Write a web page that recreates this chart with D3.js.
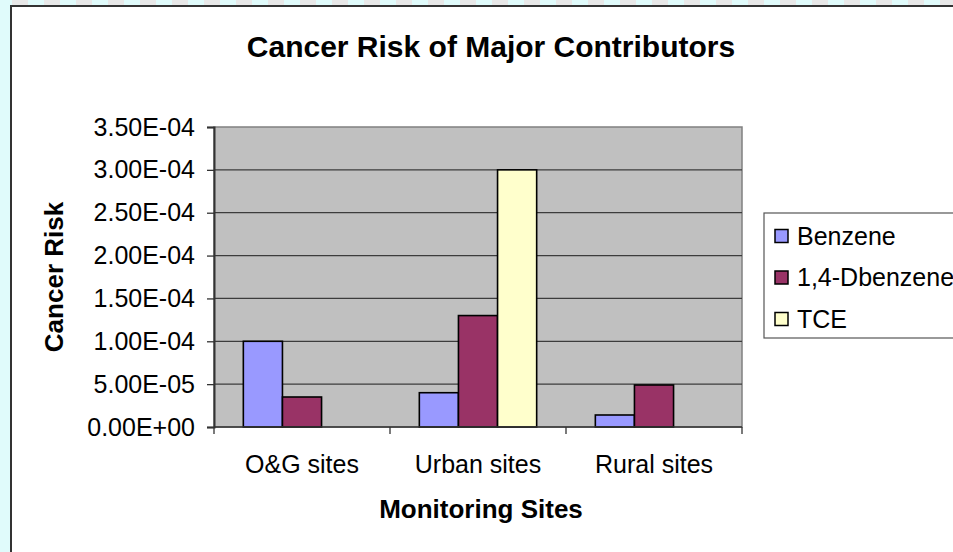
<!DOCTYPE html>
<html>
<head>
<meta charset="utf-8">
<script src="https://cdn.jsdelivr.net/npm/d3@7"></script>
<style>
  body { margin: 0; padding: 0; background: #e0fbfb; }
  svg { display: block; }
  text { font-family: "Liberation Sans", Arial, sans-serif; fill: #000; }
</style>
</head>
<body>
<svg id="chart" width="953" height="552"></svg>
<script>
// chart data
var categories = ["O&G sites", "Urban sites", "Rural sites"];
var seriesNames = ["Benzene", "1,4-Dbenzene", "TCE"];
var benzene = [1.0e-4, 4.0e-5, 1.4e-5];
var dbenzene = [3.5e-5, 1.3e-4, 4.9e-5];
var tce = [null, 3.0e-4, null];
var yTicks = [0, 5e-5, 1e-4, 1.5e-4, 2e-4, 2.5e-4, 3e-4, 3.5e-4];

var seriesColors = ["#9999ff", "#993366", "#ffffcc"];
var allSeries = [benzene, dbenzene, tce];

var svg = d3.select('#chart');
var W = +svg.attr('width');
var H = +svg.attr('height');

// page background: cyan with a checkered strip on top
svg.append('rect').attr('width', W).attr('height', H).attr('fill', '#e0fbfb');
for (var bx = 12; bx < W; bx += 32) {
    svg.append('rect').attr('x', bx).attr('y', 0).attr('width', 16).attr('height', 6).attr('fill', '#e8e8e8');
}

// chart area (runs off the right and bottom)
svg.append('rect')
    .attr('x', 11).attr('y', 6)
    .attr('width', W + 20).attr('height', H + 20)
    .attr('fill', '#fff')
    .attr('stroke', '#333')
    .attr('stroke-width', 2);

var plot = {l: 214, r: 742, t: 127, b: 427};

var x = d3.scaleBand()
    .domain(categories)
    .range([plot.l, plot.r])
    .padding(0);

var xInner = d3.scaleBand()
    .domain(seriesNames)
    .range([0, x.bandwidth()])
    .paddingInner(0)
    .paddingOuter(0.75);

var y = d3.scaleLinear()
    .domain([0, 3.5e-4])
    .range([plot.b, plot.t]);

function fmtE(v) {
    if (v === 0) return "0.00E+00";
    var parts = v.toExponential(2).split("e");
    var sign = parts[1][0];
    var digits = parts[1].slice(1);
    if (digits.length < 2) digits = "0" + digits;
    return parts[0] + "E" + sign + digits;
}

// plot background
svg.append('rect')
    .attr('x', plot.l).attr('y', plot.t)
    .attr('width', plot.r - plot.l).attr('height', plot.b - plot.t)
    .attr('fill', '#c0c0c0')
    .attr('stroke', '#808080')
    .attr('stroke-width', 1.5);

// gridlines
svg.append('g')
    .selectAll('line')
    .data(yTicks.filter(function(d) { return d > 0 && d < 3.5e-4; }))
    .enter().append('line')
    .attr('x1', plot.l).attr('x2', plot.r)
    .attr('y1', function(d) { return y(d); })
    .attr('y2', function(d) { return y(d); })
    .attr('stroke', '#3c3c3c')
    .attr('stroke-width', 1.3);

// bars
var groups = svg.append('g')
    .selectAll('g')
    .data(seriesNames)
    .enter().append('g')
    .attr('fill', function(d, i) { return seriesColors[i]; });

groups.each(function(name, si) {
    var rows = categories.map(function(c, ci) { return {cat: c, v: allSeries[si][ci]}; })
        .filter(function(d) { return d.v != null; });
    d3.select(this).selectAll('rect')
        .data(rows)
        .enter().append('rect')
        .attr('x', function(d) { return x(d.cat) + xInner(name); })
        .attr('y', function(d) { return y(d.v); })
        .attr('width', xInner.bandwidth())
        .attr('height', function(d) { return y(0) - y(d.v); })
        .attr('stroke', '#000')
        .attr('stroke-width', 1.6);
});

// y axis
var yAxis = d3.axisLeft(y)
    .tickValues(yTicks)
    .tickSize(7)
    .tickPadding(12)
    .tickFormat(fmtE);
var yg = svg.append('g')
    .attr('transform', 'translate(' + plot.l + ',0)')
    .call(yAxis);
yg.select('.domain').attr('stroke', '#333').attr('stroke-width', 2);
yg.selectAll('.tick line').attr('stroke', '#333').attr('stroke-width', 1.3);
yg.selectAll('.tick text')
    .style('font-family', '"Liberation Sans", Arial, sans-serif')
    .style('font-size', '25px')
    .attr('fill', '#000');

// x axis line and boundary ticks
svg.append('line')
    .attr('x1', plot.l).attr('x2', plot.r)
    .attr('y1', plot.b).attr('y2', plot.b)
    .attr('stroke', '#333').attr('stroke-width', 1.5);
var bounds = categories.map(function(c) { return x(c); }).concat([plot.r]);
svg.append('g')
    .selectAll('line')
    .data(bounds)
    .enter().append('line')
    .attr('x1', function(d) { return d; }).attr('x2', function(d) { return d; })
    .attr('y1', plot.b).attr('y2', plot.b + 7)
    .attr('stroke', '#333').attr('stroke-width', 1.3);

svg.append('g')
    .selectAll('text')
    .data(categories)
    .enter().append('text')
    .attr('x', function(d) { return x(d) + x.bandwidth() / 2; })
    .attr('y', 473)
    .attr('text-anchor', 'middle')
    .style('font-size', '25px')
    .text(function(d) { return d; });

// titles
svg.append('text')
    .attr('x', 491).attr('y', 57)
    .attr('text-anchor', 'middle')
    .style('font-size', '30px')
    .style('font-weight', 'bold')
    .text('Cancer Risk of Major Contributors');

svg.append('text')
    .attr('x', 481).attr('y', 518)
    .attr('text-anchor', 'middle')
    .style('font-size', '26px')
    .style('font-weight', 'bold')
    .text('Monitoring Sites');

svg.append('text')
    .attr('transform', 'translate(63,' + ((plot.t + plot.b) / 2) + ') rotate(-90)')
    .attr('text-anchor', 'middle')
    .style('font-size', '26px')
    .style('font-weight', 'bold')
    .text('Cancer Risk');

// legend
var legend = svg.append('g').attr('transform', 'translate(764,213)');
legend.append('rect')
    .attr('width', 260).attr('height', 125)
    .attr('fill', '#fff')
    .attr('stroke', '#555')
    .attr('stroke-width', 1.2);

var items = legend.selectAll('.item')
    .data(seriesNames)
    .enter().append('g')
    .attr('class', 'item')
    .attr('transform', function(d, i) { return 'translate(0,' + (23 + i * 41.5) + ')'; });

items.append('rect')
    .attr('x', 11).attr('y', -6.5)
    .attr('width', 13).attr('height', 13)
    .attr('fill', function(d, i) { return seriesColors[i]; })
    .attr('stroke', '#000')
    .attr('stroke-width', 1.5);

items.append('text')
    .attr('x', 33)
    .attr('dy', '0.35em')
    .style('font-size', '25px')
    .text(function(d) { return d; });
</script>
</body>
</html>
